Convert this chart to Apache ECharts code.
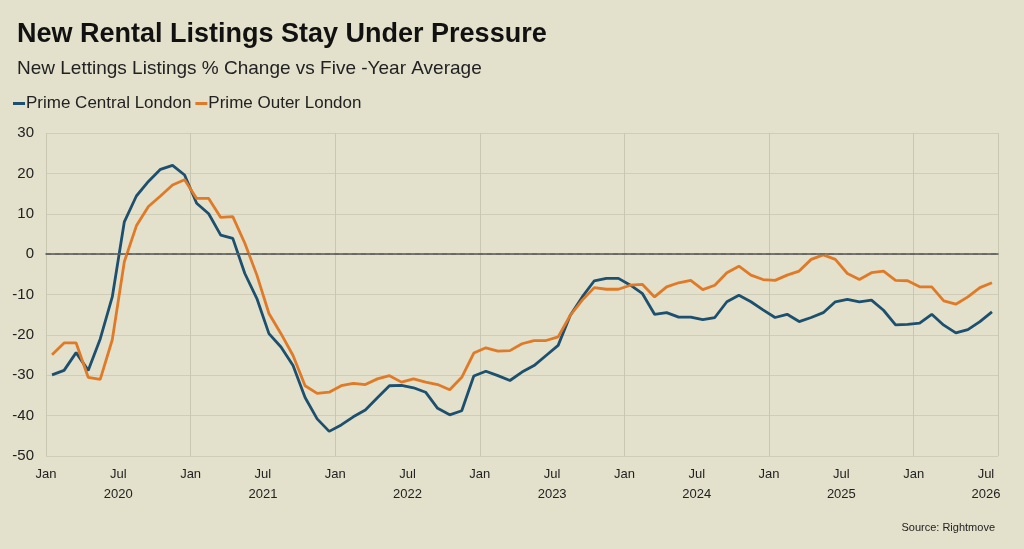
<!DOCTYPE html>
<html>
<head>
<meta charset="utf-8">
<script src="https://cdn.jsdelivr.net/npm/echarts@6/dist/echarts.min.js"></script>
<style>
  html, body { margin: 0; padding: 0; background: #e3e0cb; }
  #chart { width: 1024px; height: 549px; }
</style>
</head>
<body>
<div id="chart"></div>
<script>
// monthly, Jan 2020 .. Jul 2026
const years = [2020, 2021, 2022, 2023, 2024, 2025, 2026]
const monthNames = ['Jan', 'Jul']
const primeCentral = [
  -29.9, -28.8, -24.4, -28.8, -21, -10.6, 8, 14.4, 18, 21, 22, 19.6,
  12.6, 10, 4.7, 3.9, -4.8, -11, -19.7, -23, -27.6, -35.5, -40.8, -43.9,
  -42.3, -40.3, -38.6, -35.6, -32.6, -32.5, -33.1, -34.2, -38.2, -39.8, -38.8, -30.2,
  -29, -30.1, -31.3, -29.2, -27.6, -25.1, -22.6, -15.2, -10.6, -6.6, -6, -6,
  -7.7, -9.8, -14.9, -14.5, -15.6, -15.6, -16.2, -15.7, -11.8, -10.2, -11.8, -13.8,
  -15.7, -14.9, -16.7, -15.7, -14.5, -11.8, -11.2, -11.8, -11.4, -13.9, -17.5, -17.4,
  -17.1, -14.9, -17.6, -19.5, -18.7, -16.7, -14.3
]
const primeOuter = [
  -24.9, -22, -22, -30.5, -31, -21.2, -1.9, 7, 11.8, 14.4, 17.1, 18.4,
  13.8, 13.8, 9.1, 9.3, 2.7, -5.2, -14.7, -19.7, -25.1, -32.6, -34.5, -34.2,
  -32.6, -32, -32.3, -30.9, -30.1, -31.7, -30.9, -31.7, -32.3, -33.6, -30.5, -24.5,
  -23.2, -24, -23.9, -22.2, -21.4, -21.4, -20.5, -15.2, -11.4, -8.3, -8.7, -8.7,
  -7.7, -7.5, -10.6, -8.1, -7.1, -6.5, -8.8, -7.7, -4.6, -3, -5.2, -6.3,
  -6.5, -5.2, -4.2, -1.3, -0.2, -1.3, -4.8, -6.3, -4.6, -4.2, -6.5, -6.6,
  -8.1, -8.1, -11.6, -12.4, -10.6, -8.3, -7.1
]
const yTicks = [30, 20, 10, 0, -10, -20, -30, -40, -50]

const nMonths = primeCentral.length
const toPoints = arr => arr.map((v, i) => [i + 0.5, v])

const chart = echarts.init(document.getElementById('chart'))
const font = 'Arial, "Liberation Sans", sans-serif'

chart.setOption({
  backgroundColor: '#e3e0cb',
  textStyle: { fontFamily: font },
  title: [
    { text: 'New Rental Listings Stay Under Pressure', left: 12, top: 16,
      textStyle: { fontSize: 27, fontWeight: 'bold', color: '#111', fontFamily: font } },
    { text: 'New Lettings Listings % Change vs Five -Year Average', left: 12, top: 54,
      textStyle: { fontSize: 19, fontWeight: 'normal', color: '#222', fontFamily: font } },
    { text: 'Source: Rightmove', right: 24, top: 517,
      textStyle: { fontSize: 11, fontWeight: 'normal', color: '#222', fontFamily: font } }
  ],
  legend: {
    left: 8, top: 90, itemGap: 4, itemWidth: 12, itemHeight: 3, icon: 'rect',
    textStyle: { fontSize: 17, color: '#222', padding: [0, 0, 0, -4] },
    data: ['Prime Central London', 'Prime Outer London']
  },
  grid: { left: 46, right: 26, top: 133, bottom: 93 },
  xAxis: [
    {
      type: 'value', min: 0, max: nMonths, interval: 6,
      axisLine: { show: true, lineStyle: { color: '#555', width: 1.5 } },
      axisTick: { show: false },
      splitLine: { show: false },
      axisLabel: {
        color: '#222', fontSize: 13, lineHeight: 20, margin: 8,
        showMaxLabel: false,
        formatter: v => {
          if (v % 12 === 0) return monthNames[0]
          return monthNames[1] + '\n' + years[Math.floor(v / 12)]
        }
      }
    },
    {
      type: 'value', min: 0, max: nMonths, interval: 12, position: 'bottom',
      axisLine: { show: false }, axisTick: { show: false }, axisLabel: { show: false },
      splitLine: { show: true, lineStyle: { color: '#c9c6b2', width: 1 } }
    }
  ],
  yAxis: {
    type: 'value', min: yTicks[yTicks.length - 1], max: yTicks[0], interval: 10,
    axisLine: { show: false }, axisTick: { show: false },
    axisLabel: { color: '#222', fontSize: 15, margin: 12 },
    splitLine: { lineStyle: { color: '#cfccb8', width: 1 } }
  },
  series: [
    {
      name: 'Prime Central London', type: 'line', symbol: 'none',
      data: toPoints(primeCentral),
      lineStyle: { color: '#1d4f6e', width: 2.8 }, itemStyle: { color: '#1d4f6e' },
      markLine: {
        silent: true, symbol: 'none', label: { show: false },
        lineStyle: { color: '#666', type: [5, 4], width: 1.5 },
        data: [{ yAxis: 0 }]
      }
    },
    {
      name: 'Prime Outer London', type: 'line', symbol: 'none',
      data: toPoints(primeOuter),
      lineStyle: { color: '#e07a27', width: 2.8 }, itemStyle: { color: '#e07a27' }
    }
  ]
})
</script>
</body>
</html>
